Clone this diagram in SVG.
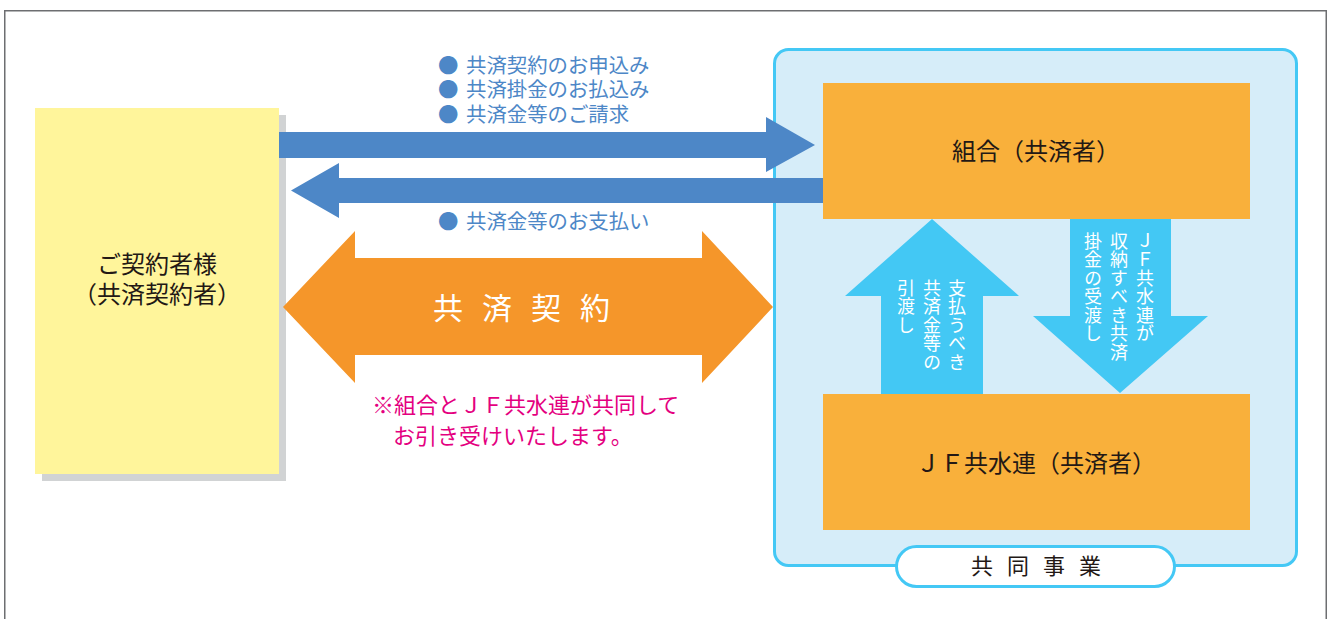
<svg xmlns="http://www.w3.org/2000/svg" width="1333" height="619" viewBox="0 0 1333 619">
<style>
text{font-family:"Noto Sans CJK JP","Noto Sans",sans-serif;}
.dark{fill:#231815;font-size:24px;text-anchor:middle;}
.blue{fill:#4d87c7;font-size:20.4px;}
.pink{fill:#e4007f;font-size:22px;}
.vert{fill:#ffffff;font-size:18px;writing-mode:vertical-rl;letter-spacing:0.5px;}
.orangebox{fill:#f9b03b;}
</style>
<rect x="0" y="0" width="1333" height="619" fill="#ffffff"/>
<rect x="4.75" y="10.75" width="1321.5" height="640" fill="none" stroke="#6d6e71" stroke-width="1.5"/>

<g id="kyosai-jigyo">
<rect x="774.5" y="49.5" width="522" height="516" rx="14" fill="#d6edf9" stroke="#44c8f5" stroke-width="3"/>
<rect x="896.5" y="546.5" width="278" height="40" rx="20" fill="#ffffff" stroke="#44c8f5" stroke-width="3"/>
<text class="dark" x="1036" y="574" style="font-size:22px;letter-spacing:14px" text-anchor="middle" dx="7">共同事業</text>
</g>

<g id="keiyakusha">
<rect x="42" y="115" width="244" height="366" fill="#d1d3d4"/>
<rect x="35" y="108" width="244" height="366" fill="#fff59b"/>
<text class="dark" x="157" y="273">ご契約者様</text>
<text class="dark" x="157" y="303">（共済契約者）</text>
</g>

<g id="kumiai">
<rect class="orangebox" x="823" y="83" width="427" height="136"/>
<text class="dark" x="1036" y="160">組合（共済者）</text>
</g>

<g id="jf">
<rect class="orangebox" x="823" y="394" width="427" height="136"/>
<text class="dark" x="1036" y="472">ＪＦ共水連（共済者）</text>
</g>

<g id="connectors">
<polygon points="279,132 766,132 766,117 815,145 766,172 766,158 279,158" fill="#4d87c7"/>
<polygon points="823,178 339,178 339,163 291,190.5 339,218 339,203 823,203" fill="#4d87c7"/>
<polygon points="283,307 355,231 355,258 702,258 702,231 773,307 702,383 702,355 355,355 355,383" fill="#f5962a"/>
<polygon points="932,219 1019,296 983,296 983,394 881,394 881,296 845,296" fill="#43c8f4"/>
<polygon points="1070,219 1171,219 1171,316 1208,316 1120,393 1033,316 1070,316" fill="#43c8f4"/>
</g>

<g id="labels">
<text class="blue" x="438" y="73">●<tspan x="466">共済契約のお申込み</tspan></text>
<text class="blue" x="438" y="97">●<tspan x="466">共済掛金のお払込み</tspan></text>
<text class="blue" x="438" y="122">●<tspan x="466">共済金等のご請求</tspan></text>
<text class="blue" x="438" y="229">●<tspan x="466">共済金等のお支払い</tspan></text>
<text x="525" y="319" fill="#ffffff" style="font-size:30px;letter-spacing:19px" text-anchor="middle" dx="6">共済契約</text>
<text class="pink" x="372" y="413">※組合とＪＦ共水連が共同して</text>
<text class="pink" x="393" y="444">お引き受けいたします。</text>
<text class="vert" x="957" y="279">支払うべき</text>
<text class="vert" x="932" y="279">共済金等の</text>
<text class="vert" x="906" y="279">引渡し</text>
<text class="vert" x="1145" y="232">ＪＦ共水連が</text>
<text class="vert" x="1119" y="232">収納すべき共済</text>
<text class="vert" x="1093" y="232">掛金の受渡し</text>
</g>
</svg>
